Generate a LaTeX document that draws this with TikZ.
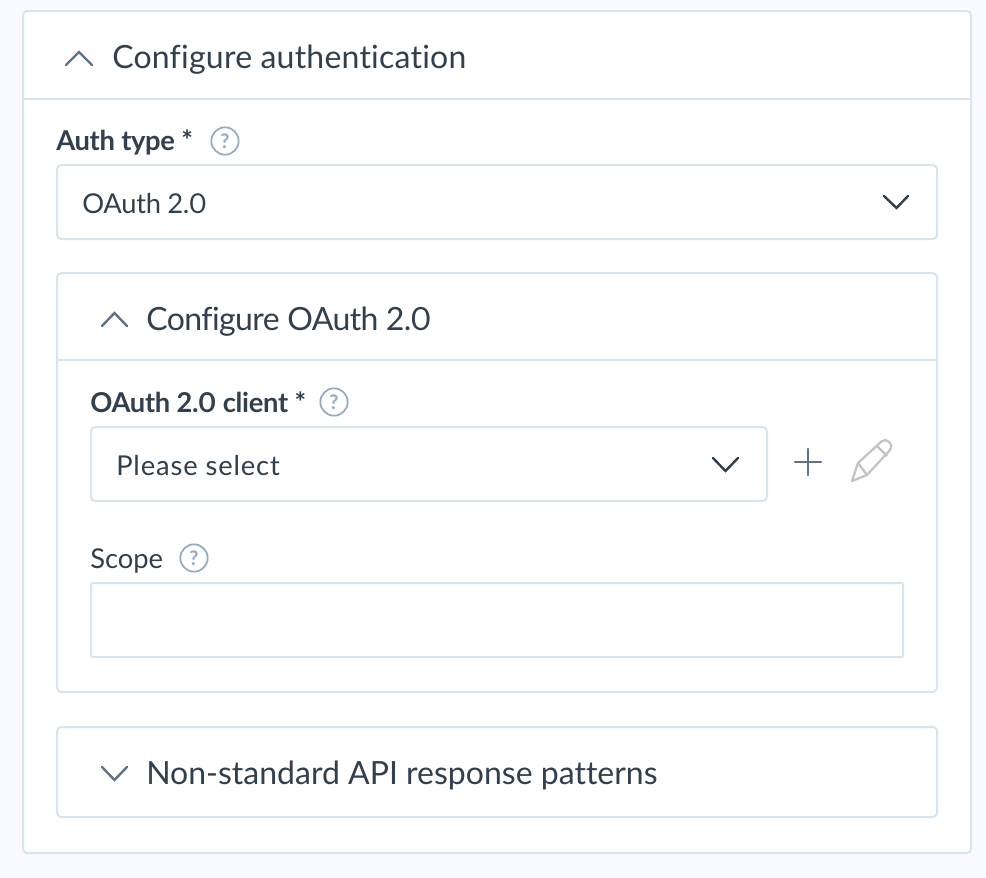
\documentclass[tikz,border=0pt]{standalone}
\usepackage{fontspec}
\setmainfont[Numbers=Proportional,Ligatures=NoCommon]{Lato}
\definecolor{pagebg}{HTML}{F8FAFF}
\definecolor{edge}{HTML}{D8E4EE}
\definecolor{ink}{HTML}{323F4D}
\definecolor{slate}{HTML}{5F7385}
\definecolor{hint}{HTML}{94ABC0}
\definecolor{pencil}{HTML}{C4C4C4}
\tikzset{
  panel/.style={draw=edge, line width=1.5pt, fill=white, rounded corners=3pt, inner sep=0pt, outer sep=0pt},
  title/.style={anchor=base west, text=ink, font=\fontsize{24}{28}\selectfont, inner sep=0pt},
  body/.style={anchor=base west, text=ink, font=\fontsize{20.5}{24}\selectfont, inner sep=0pt},
  heavy/.style={body, font=\fontsize{20.5}{24}\selectfont\bfseries},
  hook/.style={line width=1.8pt, line cap=round, line join=miter},
  helpring/.style={circle, draw=hint, line width=1.3pt, minimum size=20.5pt, inner sep=0pt, text=hint, font=\fontsize{15}{16}\selectfont\bfseries},
}
\begin{document}
\begin{tikzpicture}[x=0.75pt,y=-0.75pt]
\fill[pagebg] (0,0) rectangle (986,878);
\useasboundingbox (0,0) rectangle (986,878);
\node[panel, minimum width=711pt, minimum height=631.5pt] (outer) at (497,432) {};
\draw[edge, line width=1.5pt] (outer.west |- 0,99) -- (outer.east |- 0,99);
\node[panel, minimum width=660pt, minimum height=55.5pt] (authbox) at (497,202) {};
\node[panel, minimum width=660pt, minimum height=314pt] (oauthpanel) at (497,482.5) {};
\draw[edge, line width=1.5pt] (oauthpanel.west |- 0,360) -- (oauthpanel.east |- 0,360);
\node[panel, minimum width=507pt, minimum height=55.5pt] (clientbox) at (429,464) {};
\node[panel, minimum width=609pt, minimum height=55.5pt, rounded corners=1pt] (scopebox) at (497,620) {};
\node[panel, minimum width=660pt, minimum height=67.5pt] (patterns) at (497,772) {};
% headings
\node[title] (authtitle) at (112,68) {\addfontfeatures{LetterSpace=0.7}Configure authentication};
\node[title] (oauthtitle) at (146,330) {\addfontfeatures{LetterSpace=-1.8}Configure OAuth 2.0};
\node[title] (patterntitle) at (146,784) {Non-standard API response patterns};
% fields
\node[heavy] (authlabel) at (56,150) {\addfontfeatures{LetterSpace=-1.2}Auth type *};
\node[body] (authvalue) at (82,213) {\addfontfeatures{LetterSpace=-1}OAuth 2.0};
\node[heavy] (clientlabel) at (90,412) {\addfontfeatures{LetterSpace=-1}OAuth 2.0 client *};
\node[body] (clientvalue) at (116,475) {\addfontfeatures{LetterSpace=3.2}Please select};
\node[body] (scopelabel) at (90,568) {Scope};
\node[helpring] (authhelp) at (225,141) {?};
\node[helpring] (clienthelp) at (334,402) {?};
\node[helpring] (scopehelp) at (194,558) {?};
% chevrons
\draw[hook, slate] (66,65) -- (79,52) -- (92,65);
\draw[hook, slate] (102,326) -- (114.5,313) -- (127,326);
\draw[hook, slate] (102,767) -- (114.5,780) -- (127,767);
\draw[hook, ink] (884,196) -- (896.5,208) -- (908,196);
\draw[hook, ink] (713,458) -- (725.5,471) -- (738,458);
% plus and pencil
\draw[hook, slate] (795,462) -- (821,462);
\draw[hook, slate] (808,449) -- (808,475);
\draw[pencil, line width=1.7pt, line join=round] (852,481) -- (858,463) -- (882,441) .. controls (884,439) and (887,440) .. (889,442) .. controls (892,445) and (892,448) .. (890,450) -- (867,475) -- cycle;
\draw[pencil, line width=1.7pt] (858,463) -- (867,475);
\draw[pencil, line width=1.7pt] (877,446) -- (887,456);
\end{tikzpicture}
\end{document}
